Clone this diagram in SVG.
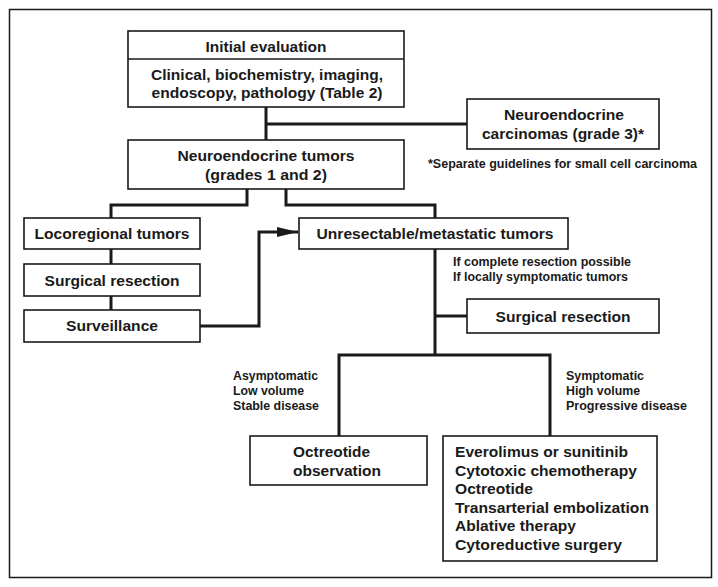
<svg xmlns="http://www.w3.org/2000/svg" width="718" height="587" viewBox="0 0 718 587">
<style>
.box{fill:#fff;stroke:#1a1a1a;stroke-width:1.6}
.t{font-family:"Liberation Sans",Arial,sans-serif;font-weight:bold;font-size:15.5px;fill:#1a1a1a}
.a{font-family:"Liberation Sans",Arial,sans-serif;font-weight:bold;font-size:12.5px;fill:#1a1a1a}
.c{fill:none;stroke:#1a1a1a;stroke-width:3;stroke-linejoin:miter}
</style>
<defs>
<marker id="arr" markerUnits="userSpaceOnUse" markerWidth="22" markerHeight="12" refX="21" refY="6" orient="auto">
<path d="M0,1 L21,6 L0,11 Z" fill="#1a1a1a"/>
</marker>
</defs>
<rect x="0" y="0" width="718" height="587" fill="#fff"/>
<rect x="9.5" y="9.5" width="702" height="568" fill="none" stroke="#1a1a1a" stroke-width="1.5"/>

<g id="connectors">
<path class="c" d="M266,107 V140"/>
<path class="c" d="M266,124 H467"/>
<path class="c" d="M247,189 V205 H111 V218"/>
<path class="c" d="M286,189 V205 H435 V218"/>
<path class="c" d="M111,249 V264"/>
<path class="c" d="M111,296 V310"/>
<path class="c" d="M200,326 H259 V232 H298" marker-end="url(#arr)"/>
<path class="c" d="M435,249 V355"/>
<path class="c" d="M435,316 H467"/>
<path class="c" d="M339,436 V355 H550 V436"/>
</g>

<g id="initial-evaluation">
<rect class="box" x="128" y="31" width="276" height="76"/>
<line x1="128" y1="59" x2="404" y2="59" stroke="#1a1a1a" stroke-width="1.6"/>
<text class="t" x="266" y="52" text-anchor="middle" textLength="121" lengthAdjust="spacingAndGlyphs">Initial evaluation</text>
<text class="t" x="267" y="80" text-anchor="middle" textLength="232" lengthAdjust="spacingAndGlyphs">Clinical, biochemistry, imaging,</text>
<text class="t" x="267" y="98" text-anchor="middle" textLength="231" lengthAdjust="spacingAndGlyphs">endoscopy, pathology (Table 2)</text>
</g>

<g id="neuroendocrine-carcinomas">
<rect class="box" x="467" y="99" width="192" height="50"/>
<text class="t" x="564" y="120" text-anchor="middle" textLength="120" lengthAdjust="spacingAndGlyphs">Neuroendocrine</text>
<text class="t" x="563" y="139" text-anchor="middle" textLength="162" lengthAdjust="spacingAndGlyphs">carcinomas (grade 3)*</text>
</g>
<text class="a" x="428" y="167.5" textLength="269" lengthAdjust="spacingAndGlyphs">*Separate guidelines for small cell carcinoma</text>

<g id="neuroendocrine-tumors">
<rect class="box" x="128" y="140" width="276" height="49"/>
<text class="t" x="266" y="161" text-anchor="middle" textLength="177" lengthAdjust="spacingAndGlyphs">Neuroendocrine tumors</text>
<text class="t" x="266" y="180" text-anchor="middle" textLength="122" lengthAdjust="spacingAndGlyphs">(grades 1 and 2)</text>
</g>

<g id="locoregional-tumors">
<rect class="box" x="24" y="218" width="176" height="31"/>
<text class="t" x="112" y="239" text-anchor="middle" textLength="155" lengthAdjust="spacingAndGlyphs">Locoregional tumors</text>
</g>

<g id="surgical-resection-left">
<rect class="box" x="24" y="264" width="176" height="32"/>
<text class="t" x="112" y="285.5" text-anchor="middle" textLength="135" lengthAdjust="spacingAndGlyphs">Surgical resection</text>
</g>

<g id="surveillance">
<rect class="box" x="24" y="310" width="176" height="32"/>
<text class="t" x="112" y="331" text-anchor="middle" textLength="92" lengthAdjust="spacingAndGlyphs">Surveillance</text>
</g>

<g id="unresectable-metastatic">
<rect class="box" x="299" y="218" width="269" height="31"/>
<text class="t" x="435" y="239" text-anchor="middle" textLength="237" lengthAdjust="spacingAndGlyphs">Unresectable/metastatic tumors</text>
</g>
<text class="a" x="453" y="265.5" textLength="178" lengthAdjust="spacingAndGlyphs">If complete resection possible</text>
<text class="a" x="453" y="280.5" textLength="175" lengthAdjust="spacingAndGlyphs">If locally symptomatic tumors</text>

<g id="surgical-resection-right">
<rect class="box" x="467" y="299" width="192" height="34"/>
<text class="t" x="563" y="322" text-anchor="middle" textLength="135" lengthAdjust="spacingAndGlyphs">Surgical resection</text>
</g>

<text class="a" x="233" y="379.5" textLength="85" lengthAdjust="spacingAndGlyphs">Asymptomatic</text>
<text class="a" x="233" y="395" textLength="71" lengthAdjust="spacingAndGlyphs">Low volume</text>
<text class="a" x="233" y="410" textLength="86" lengthAdjust="spacingAndGlyphs">Stable disease</text>
<text class="a" x="566" y="379.5" textLength="78" lengthAdjust="spacingAndGlyphs">Symptomatic</text>
<text class="a" x="566" y="395" textLength="74" lengthAdjust="spacingAndGlyphs">High volume</text>
<text class="a" x="566" y="410" textLength="121" lengthAdjust="spacingAndGlyphs">Progressive disease</text>

<g id="octreotide-observation">
<rect class="box" x="250" y="436" width="177" height="49"/>
<text class="t" x="293" y="457" textLength="77" lengthAdjust="spacingAndGlyphs">Octreotide</text>
<text class="t" x="293" y="475.5" textLength="88" lengthAdjust="spacingAndGlyphs">observation</text>
</g>

<g id="treatment-options">
<rect class="box" x="443" y="436" width="214" height="125"/>
<text class="t" x="455" y="457" textLength="173" lengthAdjust="spacingAndGlyphs">Everolimus or sunitinib</text>
<text class="t" x="455" y="475.5" textLength="182" lengthAdjust="spacingAndGlyphs">Cytotoxic chemotherapy</text>
<text class="t" x="455" y="494" textLength="78" lengthAdjust="spacingAndGlyphs">Octreotide</text>
<text class="t" x="455" y="512.5" textLength="194" lengthAdjust="spacingAndGlyphs">Transarterial embolization</text>
<text class="t" x="455" y="531" textLength="121" lengthAdjust="spacingAndGlyphs">Ablative therapy</text>
<text class="t" x="455" y="549.5" textLength="167" lengthAdjust="spacingAndGlyphs">Cytoreductive surgery</text>
</g>
</svg>
